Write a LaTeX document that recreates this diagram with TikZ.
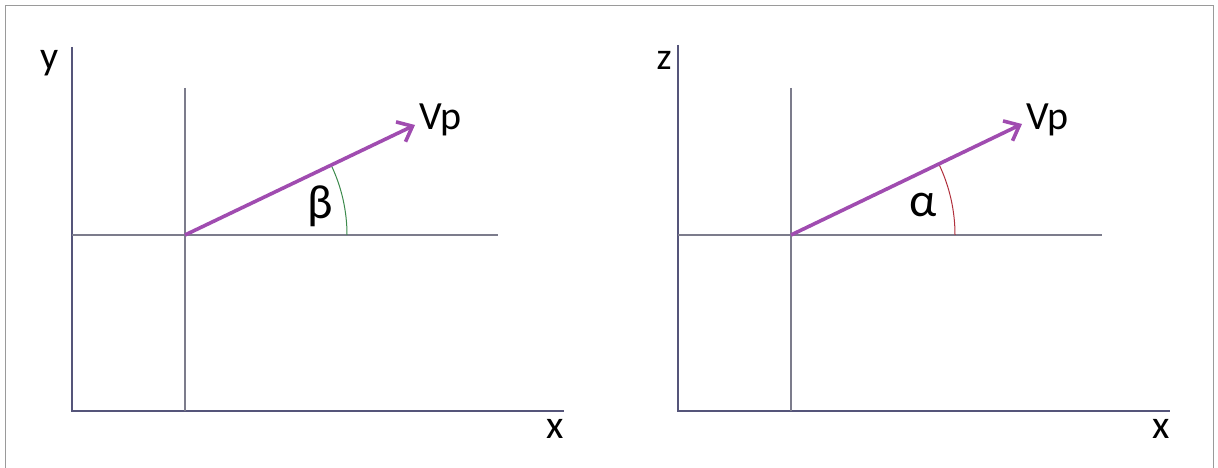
\documentclass[tikz,border=0pt]{standalone}
\usepackage{fontspec}
\setmainfont{Carlito}
\usetikzlibrary{arrows.meta}
\definecolor{vecpurple}{HTML}{A04CB0}
\definecolor{axisblue}{HTML}{55557A}
\definecolor{gridgray}{HTML}{7C7C8C}
\definecolor{framegray}{HTML}{9A9A9A}
\definecolor{arcgreen}{HTML}{3C8A4C}
\definecolor{arcred}{HTML}{B0303C}
\tikzset{
  lbl/.style={font=\fontsize{40}{44}\selectfont,inner sep=0pt},
  greek/.style={font=\fontsize{48}{52}\selectfont,inner sep=0pt},
  axis/.style={axisblue,line width=2pt},
  inner/.style={gridgray,line width=1.2pt},
  vec/.style={->,vecpurple,line width=3.6pt}
}

\begin{document}
\begin{tikzpicture}[x=1pt,y=-1pt,>={Straight Barb[length=13pt,width=22pt]}]
  \useasboundingbox (0,0) rectangle (1218,468);
  \draw[framegray,line width=1.5pt] (5.5,468) -- (5.5,5.5) -- (1213.5,5.5) -- (1213.5,468);
  % left: x-y plane
  \coordinate (ytop) at (72,47);
  \coordinate (lcorner) at (72,411);
  \coordinate (lxend) at (564,411);
  \coordinate (lO) at (185,235);
  \coordinate (lvtop) at (185,88);
  \coordinate (lvbot) at (185,411);
  \coordinate (lhl) at (72,235);
  \coordinate (lhr) at (498,235);
  \coordinate (ltip) at (415,125);
  \draw[axis] (ytop) -- (lcorner) -- (lxend);
  \draw[inner] (lvtop) -- (lvbot);
  \draw[inner] (lhl) -- (lhr);
  \draw[arcgreen,line width=1pt] (lO) ++(162,0) arc[start angle=0,end angle=-25.6,radius=162];
  \draw[vec] (lO) -- (ltip);
  \node[lbl,anchor=base] (ylab) at (50,70) {y};
  \node[lbl,anchor=base] (lxlab) at (555,438) {x};
  \node[lbl,anchor=base west] (lvp) at (419,130) {Vp};
  \node[greek] (betalab) at (320,206) {β};
  % right: x-z plane
  \coordinate (ztop) at (678,45);
  \coordinate (rcorner) at (678,411);
  \coordinate (rxend) at (1170,411);
  \coordinate (rO) at (791,235);
  \coordinate (rvtop) at (791,88);
  \coordinate (rvbot) at (791,411);
  \coordinate (rhl) at (678,235);
  \coordinate (rhr) at (1102,235);
  \coordinate (rtip) at (1022,124);
  \draw[axis] (ztop) -- (rcorner) -- (rxend);
  \draw[inner] (rvtop) -- (rvbot);
  \draw[inner] (rhl) -- (rhr);
  \draw[arcred,line width=1pt] (rO) ++(164,0) arc[start angle=0,end angle=-25.7,radius=164];
  \draw[vec] (rO) -- (rtip);
  \node[inner sep=0pt,font=\fontsize{38}{42}\selectfont] (zlab) at (664,60) {z};
  \node[lbl,anchor=base] (rxlab) at (1161,438) {x};
  \node[lbl,anchor=base west] (rvp) at (1026,130) {Vp};
  \node[greek] (alphalab) at (923,205) {α};
\end{tikzpicture}
\end{document}
